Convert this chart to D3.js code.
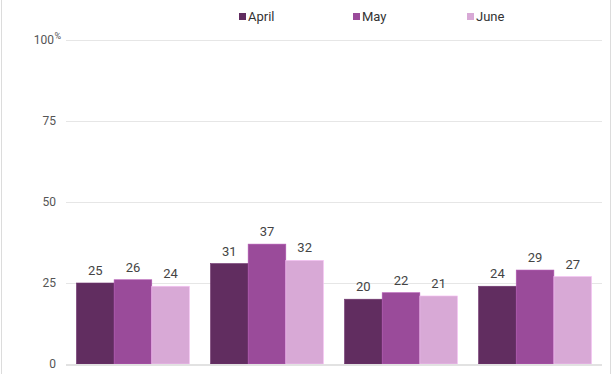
<!DOCTYPE html>
<html>
<head>
<meta charset="utf-8">
<script src="https://cdn.jsdelivr.net/npm/d3@7"></script>
<style>
  html, body { margin: 0; padding: 0; background: #fff; }
  svg { display: block; font-family: Roboto, 'Open Sans', sans-serif; }
  .grid line { stroke: #e6e6e6; stroke-width: 1; }
  .tick-label { fill: #555; font-size: 12px; }
  .val { fill: #444; font-size: 13px; }
  .legend text { fill: #333; font-size: 13px; }
  .cat { fill: #555; font-size: 13px; }
</style>
</head>
<body>
<div id="chart"></div>
<script>
// data
const categories = ['Doing well', 'Holding steady', 'Struggling', 'Falling behind'];
const months = ['April', 'May', 'June'];
const april = [25, 31, 20, 24];
const may = [26, 37, 22, 29];
const june = [24, 32, 21, 27];
const yTicks = [0, 25, 50, 75, 100];

const colors = ['#612d60', '#9a4b9a', '#d8a9d6'];
const series = [april, may, june];

const W = 612;
const H = 374;
const marginLeft = 66;
const marginRight = 10;
const plotTop = 40;
const plotBottom = 364;

const $svg = d3.select('#chart').append('svg')
  .attr('width', W)
  .attr('height', H);

// frame edges
$svg.append('line').attr('x1', 1.5).attr('x2', 1.5).attr('y1', 0).attr('y2', H)
  .attr('stroke', '#dcdcdc');
$svg.append('line').attr('x1', W - 1.5).attr('x2', W - 1.5).attr('y1', 0).attr('y2', H)
  .attr('stroke', '#dcdcdc');

const scaleX = d3.scaleBand()
  .domain(categories)
  .range([marginLeft, W - marginRight])
  .paddingInner(0.157)
  .paddingOuter(0.078);

const scaleSub = d3.scaleBand()
  .domain(months)
  .range([0, scaleX.bandwidth()]);

const scaleY = d3.scaleLinear()
  .domain([0, 100])
  .range([plotBottom, plotTop]);

// gridlines
const $grid = $svg.append('g').attr('class', 'grid');
$grid.selectAll('line')
  .data(yTicks.filter(d => d > 0))
  .join('line')
  .attr('x1', marginLeft)
  .attr('x2', W - marginRight)
  .attr('y1', d => Math.round(scaleY(d)) + 0.5)
  .attr('y2', d => Math.round(scaleY(d)) + 0.5);

// y labels
const $yl = $svg.append('g');
$yl.selectAll('text')
  .data(yTicks)
  .join('text')
  .attr('class', 'tick-label')
  .attr('x', d => (d === 100 ? 54 : 56))
  .attr('y', d => scaleY(d) + 4)
  .attr('text-anchor', 'end')
  .text(d => d);

$yl.append('text')
  .attr('class', 'tick-label')
  .attr('x', 54.5)
  .attr('y', scaleY(100) - 1)
  .style('font-size', '9px')
  .text('%');

// bars
const $groups = $svg.append('g')
  .selectAll('g')
  .data(categories)
  .join('g')
  .attr('transform', d => `translate(${scaleX(d)},0)`);

$groups.each(function (cat, ci) {
  const $g = d3.select(this);
  months.forEach((m, mi) => {
    const v = series[mi][ci];
    const x = scaleSub(m);
    $g.append('rect')
      .attr('x', x)
      .attr('y', scaleY(v))
      .attr('width', scaleSub.bandwidth())
      .attr('height', scaleY(0) - scaleY(v))
      .attr('fill', colors[mi])
      .attr('stroke', d3.color(colors[mi]).brighter(0.4))
      .attr('stroke-width', 0.6);
    $g.append('text')
      .attr('class', 'val')
      .attr('x', x + scaleSub.bandwidth() / 2)
      .attr('y', scaleY(v) - 8)
      .attr('text-anchor', 'middle')
      .text(v);
  });
});

// baseline
$svg.append('line')
  .attr('x1', marginLeft)
  .attr('x2', W - marginRight)
  .attr('y1', plotBottom + 1)
  .attr('y2', plotBottom + 1)
  .attr('stroke', '#e2e2e2')
  .attr('stroke-width', 2);

// category labels (mostly below the visible area)
$svg.append('g')
  .selectAll('text')
  .data(categories)
  .join('text')
  .attr('class', 'cat')
  .attr('x', d => scaleX(d) + scaleX.bandwidth() / 2)
  .attr('y', 384)
  .attr('text-anchor', 'middle')
  .text(d => d);

// legend
const $legend = $svg.append('g').attr('class', 'legend');
const $item = $legend.selectAll('g')
  .data(months)
  .join('g')
  .attr('transform', (d, i) => `translate(${239 + i * 114},13)`);
$item.append('rect')
  .attr('width', 7)
  .attr('height', 7)
  .attr('fill', (d, i) => colors[i]);
$item.append('text')
  .attr('x', 9)
  .attr('y', 8)
  .text(d => d);
</script>
</body>
</html>
